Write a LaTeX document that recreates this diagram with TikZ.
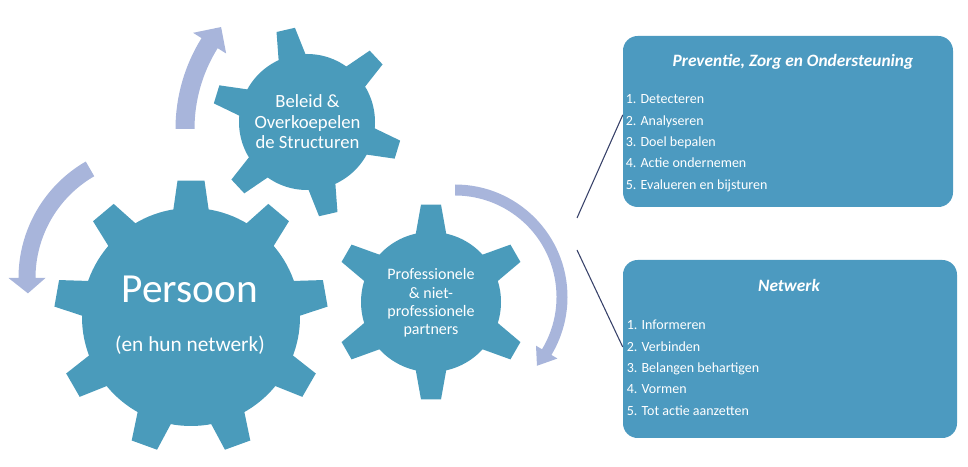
\documentclass[tikz,border=0pt]{standalone}
\usepackage{fontspec}
\setmainfont{Carlito}
\definecolor{gearc}{RGB}{74,155,187}
\definecolor{boxc}{RGB}{76,154,192}
\definecolor{arrc}{RGB}{168,181,219}
\definecolor{linec}{RGB}{55,65,105}
\begin{document}
\begin{tikzpicture}[x=0.75pt,y=0.75pt,
  geartext/.style={text=white, inner sep=0pt, anchor=base},
  boxstyle/.style={fill=boxc, rounded corners=11pt, inner sep=0pt},
  titletext/.style={text=white, inner sep=0pt, anchor=base, font=\fontsize{13}{15}\selectfont\bfseries\itshape},
  listtext/.style={text=white, inner sep=0pt, anchor=base west, font=\fontsize{10.5}{16}\selectfont},
  linkline/.style={draw=linec, line width=0.8pt},
  turnarrow/.style={fill=arrc}]
\useasboundingbox (0,0) rectangle (968,467);

% ---- gear 1: Persoon ----
\begin{scope}[shift={(191,150)}]
  \fill[gearc] (0,0) circle[radius=109];
  \foreach \a in {90,130,...,410}
    \fill[gearc] (\a-10:105) -- (\a-5.65:137) -- (\a+5.65:137) -- (\a+10:105) -- cycle;
\end{scope}
% ---- gear 2: Beleid ----
\begin{scope}[shift={(307,345)}]
  \fill[gearc] (0,0) circle[radius=68];
  \foreach \a in {103,163,...,403}
    \fill[gearc] (\a-13:64) -- (\a-5.7:95) -- (\a+5.7:95) -- (\a+13:64) -- cycle;
\end{scope}
% ---- gear 3: Professionele ----
\begin{scope}[shift={(431,165)}]
  \fill[gearc] (0,0) circle[radius=70];
  \foreach \a in {90,150,...,390}
    \fill[gearc] (\a-14:66) -- (\a-5.85:98) -- (\a+5.85:98) -- (\a+14:66) -- cycle;
\end{scope}

% ---- curved arrows ----
\begin{scope}[shift={(153,189)}]
  \fill[turnarrow] (120:134.5) arc[start angle=120,end angle=180,radius=134.5]
    -- (180:144.5) -- (187:126) -- (180:107.5) -- (180:117.5)
    arc[start angle=180,end angle=120,radius=117.5] -- cycle;
\end{scope}
\begin{scope}[shift={(347,338)}]
  \fill[turnarrow] (180:171.5) arc[start angle=180,end angle=148,radius=171.5]
    -- (148:181.5) -- (141:162) -- (148:142.5) -- (148:152.5)
    arc[start angle=148,end angle=180,radius=152.5] -- cycle;
\end{scope}
\begin{scope}[shift={(455,170)}]
  \fill[turnarrow] (90:112.5) arc[start angle=90,end angle=-31,radius=112.5]
    -- (-31:119.5) -- (-40:107) -- (-31:94.5) -- (-31:101.5)
    arc[start angle=-31,end angle=90,radius=101.5] -- cycle;
\end{scope}

% ---- gear texts ----
\node[geartext] (persoon) at (190,164) {\fontsize{31}{37}\selectfont Persoon};
\node[geartext] (netw) at (190,115.3) {\fontsize{16}{19}\selectfont (en hun netwerk)};
\node[geartext] (beleid) at (307.5,359.3) {\fontsize{14}{15.4}\selectfont\begin{tabular}[t]{@{}c@{}}Beleid \&\\Overkoepelen\\de Structuren\end{tabular}};
\node[geartext] (prof) at (431,187) {\fontsize{12}{13.75}\selectfont\begin{tabular}[t]{@{}c@{}}Professionele\\\& niet-\\professionele\\partners\end{tabular}};

% ---- boxes ----
\node[boxstyle, minimum width=247.5pt, minimum height=128.25pt] (box1) at (788,345.5) {};
\node[boxstyle, minimum width=250.5pt, minimum height=133.5pt] (box2) at (790,118) {};
\node[titletext] (title1) at (793,400.3) {Preventie, Zorg en Ondersteuning};
\node[titletext] (title2) at (789,175.3) {Netwerk};
\node[listtext] (list1) at (625.5,363) {\begin{tabular}[t]{@{}l@{}}1. Detecteren\\2. Analyseren\\3. Doel bepalen\\4. Actie ondernemen\\5. Evalueren en bijsturen\end{tabular}};
\node[listtext] (list2) at (626.5,137) {\begin{tabular}[t]{@{}l@{}}1. Informeren\\2. Verbinden\\3. Belangen behartigen\\4. Vormen\\5. Tot actie aanzetten\end{tabular}};

% ---- connector lines ----
\coordinate (s1) at (577,249);
\coordinate (s2) at (577,217);
\draw[linkline] (s1) -- ([yshift=4.9pt]box1.west);
\draw[linkline] (s2) -- ([yshift=1.5pt]box2.west);
\end{tikzpicture}
\end{document}
